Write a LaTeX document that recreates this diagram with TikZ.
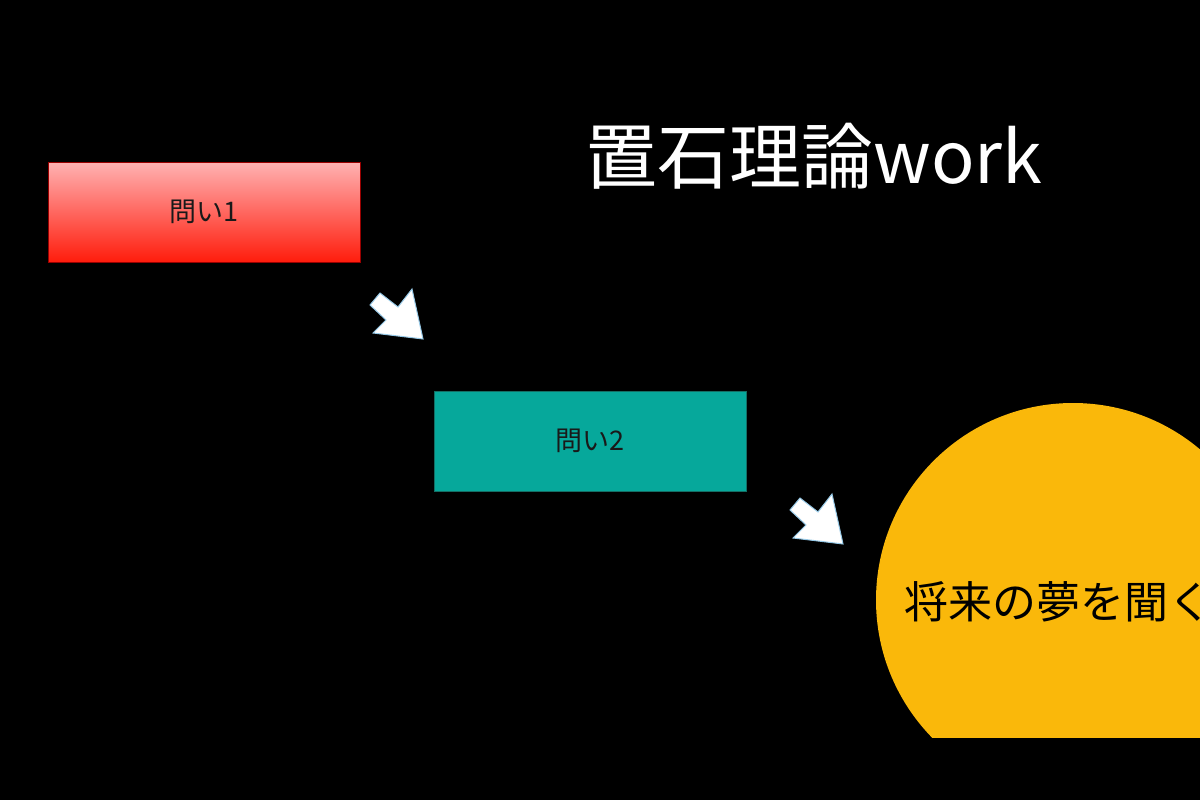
\documentclass[tikz,border=0pt]{standalone}
\usepackage{fontspec}
\setmainfont{Noto Sans CJK JP}
\definecolor{tealbox}{RGB}{6,168,155}
\definecolor{tealedge}{RGB}{20,110,100}
\definecolor{sunyellow}{RGB}{250,184,10}
\definecolor{redtop}{RGB}{255,178,178}
\definecolor{redbot}{RGB}{255,28,12}
\definecolor{arrowedge}{RGB}{150,200,230}
\begin{document}
\begin{tikzpicture}[x=1pt,y=-1pt,
  qbox/.style={rectangle, minimum width=312pt, minimum height=100pt, inner sep=0pt,
    font=\fontsize{27}{30}\selectfont, text=black!90},
  blockarrow/.style={fill=white, draw=arrowedge, line width=1pt, line join=miter}]
\fill[black] (0,0) rectangle (1200,800);
\useasboundingbox (0,0) rectangle (1200,800);
% title
\node[text=white, font=\fontsize{72}{80}\selectfont, inner sep=0pt] (title) at (814,156) {置石理論work};
% boxes
\node[qbox, top color=redtop, bottom color=redbot, draw=red!60!black, line width=0.8pt] (q1) at (204,212) {問い1};
\node[qbox, fill=tealbox, draw=tealedge, line width=0.8pt] (q2) at (590,441) {問い2};
% circle
\begin{scope}
\clip (0,0) rectangle (1200,737);
\fill[sunyellow] (1073,600) circle[radius=197];
\node[anchor=west, inner sep=0pt, font=\fontsize{44}{50}\selectfont, text=black] (dream) at (904,602) {将来の夢を聞く};
\end{scope}
% block arrows
\foreach \dx/\dy in {0/0, 420/205}{
  \draw[blockarrow, shift={(\dx,\dy)}] (370,305) -- (380,293) -- (398,307) -- (412,289) -- (423,339) -- (373,333) -- (386,320) -- cycle;
}
\end{tikzpicture}
\end{document}
